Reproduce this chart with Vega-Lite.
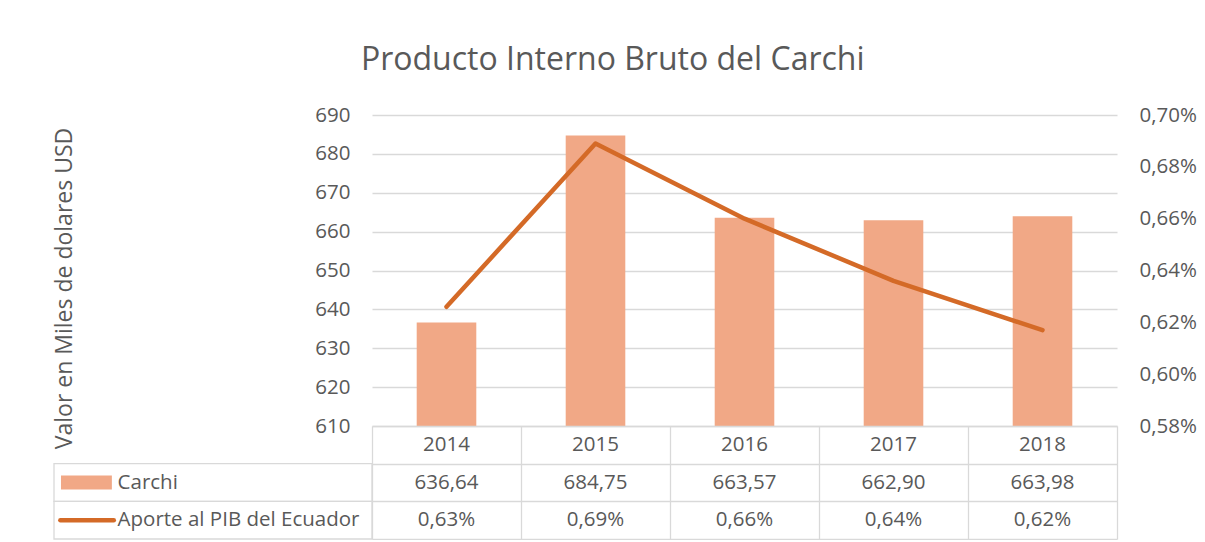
{
  "$schema": "https://vega.github.io/schema/vega-lite/v6.json",
  "padding": {"left": 53, "top": 44, "right": 0, "bottom": 0},
  "background": "white",
  "config": {
    "locale": {"number": {"decimal": ",", "thousands": ".", "grouping": [3], "currency": ["", " $"]}},
    "font": "Open Sans",
    "view": {"stroke": null},
    "concat": {"spacing": 0}
  },
  "title": {
    "text": "Producto Interno Bruto del Carchi",
    "fontSize": 32,
    "fontWeight": "normal",
    "color": "#595959",
    "anchor": "middle",
    "dx": -12,
    "offset": 28
  },
  "datasets": {
    "main": [
      {"year": "2014", "carchi": 636.64, "aporte": 0.00626},
      {"year": "2015", "carchi": 684.75, "aporte": 0.00689},
      {"year": "2016", "carchi": 663.57, "aporte": 0.0066},
      {"year": "2017", "carchi": 662.9, "aporte": 0.00636},
      {"year": "2018", "carchi": 663.98, "aporte": 0.00617}
    ],
    "rows": [
      {"row": "Carchi", "label": "Carchi"},
      {"row": "Aporte", "label": "Aporte al PIB del Ecuador"}
    ],
    "empty": []
  },
  "spacing": 0,
  "bounds": "flush",
  "columns": 2,
  "concat": [
    {
      "width": 318,
      "height": 311,
      "data": {"name": "empty"},
      "mark": "point"
    },
    {
      "width": 745,
      "height": 311,
      "data": {"name": "main"},
      "encoding": {
        "x": {
          "field": "year",
          "type": "ordinal",
          "scale": {"paddingInner": 0.6, "paddingOuter": 0.3},
          "axis": null
        }
      },
      "layer": [
        {
          "mark": {"type": "bar", "color": "#f1a886"},
          "encoding": {
            "y": {
              "field": "carchi",
              "type": "quantitative",
              "scale": {"domain": [610, 690], "zero": false, "nice": false},
              "axis": {
                "values": [610, 620, 630, 640, 650, 660, 670, 680, 690],
                "grid": true,
                "gridColor": "#d9d9d9",
                "gridWidth": 1.3,
                "domain": false,
                "ticks": false,
                "labelPadding": 22,
                "labelFontSize": 20.5,
                "labelColor": "#595959",
                "title": "Valor en Miles de dolares USD",
                "titleFontSize": 23,
                "titleFontWeight": "normal",
                "titleColor": "#595959",
                "titleX": -296,
                "titleY": 173,
                "titleAngle": -90,
                "titleAlign": "center",
                "titleBaseline": "bottom"
              }
            },
            "y2": {"datum": 610}
          }
        },
        {
          "mark": {"type": "line", "color": "#d46a27", "strokeWidth": 4.5, "strokeJoin": "round", "strokeCap": "round"},
          "encoding": {
            "y": {
              "field": "aporte",
              "type": "quantitative",
              "scale": {"domain": [0.0058, 0.007], "zero": false, "nice": false},
              "axis": {
                "orient": "right",
                "values": [0.0058, 0.006, 0.0062, 0.0064, 0.0066, 0.0068, 0.007],
                "format": ".2%",
                "grid": false,
                "domain": false,
                "ticks": false,
                "labelPadding": 22,
                "labelFontSize": 20.5,
                "labelColor": "#595959",
                "title": null
              }
            }
          }
        }
      ],
      "resolve": {"scale": {"y": "independent"}}
    },
    {
      "width": 318,
      "height": 113,
      "data": {"name": "rows"},
      "encoding": {
        "y": {
          "field": "row",
          "type": "ordinal",
          "scale": {"domain": ["Año", "Carchi", "Aporte"], "paddingInner": 0, "paddingOuter": 0},
          "axis": null
        }
      },
      "layer": [
        {
          "mark": {"type": "rect", "fill": null, "stroke": "#d9d9d9", "strokeWidth": 1.3},
          "encoding": {
            "x": {"datum": 0, "type": "quantitative", "scale": {"domain": [0, 1], "nice": false, "zero": false}, "axis": null},
            "x2": {"datum": 1}
          }
        },
        {
          "transform": [{"filter": "datum.row === 'Carchi'"}],
          "mark": {"type": "bar", "color": "#f1a886", "height": {"band": 0.37}},
          "encoding": {
            "x": {"datum": 0.022, "type": "quantitative"},
            "x2": {"datum": 0.182}
          }
        },
        {
          "transform": [{"filter": "datum.row === 'Aporte'"}],
          "mark": {"type": "rule", "color": "#d46a27", "strokeWidth": 4.5, "strokeCap": "round"},
          "encoding": {
            "x": {"datum": 0.02, "type": "quantitative"},
            "x2": {"datum": 0.188}
          }
        },
        {
          "mark": {"type": "text", "align": "left", "fontSize": 20.5, "color": "#595959"},
          "encoding": {
            "x": {"datum": 0.2, "type": "quantitative"},
            "text": {"field": "label"}
          }
        }
      ]
    },
    {
      "width": 745,
      "height": 113,
      "data": {"name": "main"},
      "encoding": {
        "x": {
          "field": "year",
          "type": "ordinal",
          "scale": {"paddingInner": 0, "paddingOuter": 0},
          "axis": {"grid": true, "tickBand": "extent", "gridColor": "#d9d9d9", "gridWidth": 1.3, "labels": false, "ticks": false, "domain": false, "title": null}
        }
      },
      "layer": [
        {
          "mark": {"type": "text", "fontSize": 20.5, "color": "#595959"},
          "encoding": {
            "y": {
              "datum": "Año",
              "type": "ordinal",
              "scale": {"domain": ["Año", "Carchi", "Aporte"], "paddingInner": 0, "paddingOuter": 0},
              "axis": {"grid": true, "tickBand": "extent", "gridColor": "#d9d9d9", "gridWidth": 1.3, "labels": false, "ticks": false, "domain": false, "title": null}
            },
            "text": {"field": "year"}
          }
        },
        {
          "mark": {"type": "text", "fontSize": 20.5, "color": "#595959"},
          "encoding": {
            "y": {"datum": "Carchi", "type": "ordinal"},
            "text": {"field": "carchi", "type": "quantitative", "format": ",.2f"}
          }
        },
        {
          "mark": {"type": "text", "fontSize": 20.5, "color": "#595959"},
          "encoding": {
            "y": {"datum": "Aporte", "type": "ordinal"},
            "text": {"field": "aporte", "type": "quantitative", "format": ".2%"}
          }
        }
      ]
    }
  ]
}
